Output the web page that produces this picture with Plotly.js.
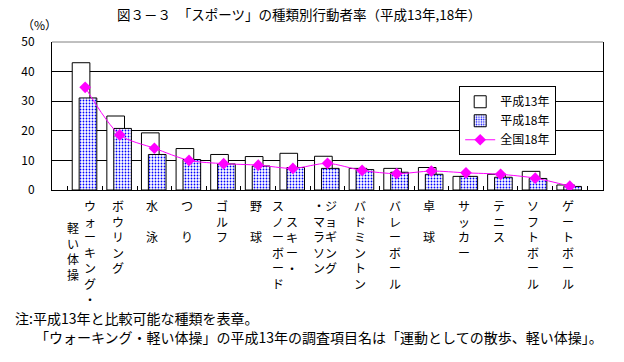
<!DOCTYPE html>
<html>
<head>
<meta charset="utf-8">
<script src="https://cdn.plot.ly/plotly-3.0.1.min.js"></script>
<style>
html,body{margin:0;padding:0;background:#fff;}
#chart{width:624px;height:362px;}
</style>
</head>
<body>
<div id="chart"></div>
<script>
// ---- data ----
const categories = ['ウォーキング・軽い体操','ボウリング','水　泳','つ　り','ゴルフ','野　球','スキー・スノーボード','ジョギング・マラソン','バドミントン','バレーボール','卓　球','サッカー','テニス','ソフトボール','ゲートボール'];
const h13 = [43.0, 25.0, 19.3, 14.0, 12.0, 11.3, 12.4, 11.4, 7.3, 7.3, 7.6, 4.6, 5.3, 6.3, 1.7];
const h18 = [31.1, 20.8, 12.0, 10.3, 8.8, 8.1, 7.6, 7.3, 6.9, 6.0, 5.3, 4.6, 4.3, 3.9, 1.2];
const nat18 = [34.7, 18.6, 14.1, 10.0, 8.9, 8.4, 7.3, 9.0, 6.6, 5.5, 6.4, 5.8, 5.3, 4.0, 1.3];
const seriesNames = ['平成13年', '平成18年', '全国18年'];
// vertical tick label columns: [right column, left column]
const tickColumns = [
  ['ウォーキング・', '軽い体操'],
  ['ボウリング'],
  ['水　泳'],
  ['つ　り'],
  ['ゴルフ'],
  ['野　球'],
  ['スキー・', 'スノーボード'],
  ['ジョギング', '・マラソン'],
  ['バドミントン'],
  ['バレーボール'],
  ['卓　球'],
  ['サッカー'],
  ['テニス'],
  ['ソフトボール'],
  ['ゲートボール']
];
const titleText = '図３－３　「スポーツ」の種類別行動者率（平成13年,18年）';
const unitText = '（%）';
const noteLines = ['注:平成13年と比較可能な種類を表章。', '「ウォーキング・軽い体操」の平成13年の調査項目名は「運動としての散歩、軽い体操」。'];

// ---- styling ----
const FONT = '"Noto Sans CJK JP", "Noto Sans", sans-serif';
// per-column shifts [xshift, row offset] for two-column labels
const colStyle = {
  0: [[5, 0], [-12, 1.4]],
  6: [[-1, 1], [-15, 0]],
  7: [[3, 0], [-9, 0]]
};

const traces = [
  {
    type: 'bar', x: categories, y: h13, name: seriesNames[0],
    width: 0.51, offset: -0.374,
    marker: {color: '#ffffff', line: {color: '#000000', width: 1}},
    hoverinfo: 'skip'
  },
  {
    type: 'bar', x: categories, y: h18, name: seriesNames[1],
    width: 0.51, offset: -0.174,
    marker: {color: '#ffffff', line: {color: '#000000', width: 1},
      pattern: {shape: '.', fgcolor: '#0000ff', bgcolor: '#ffffff', size: 3, solidity: 0.28, fillmode: 'replace'}},
    hoverinfo: 'skip'
  },
  {
    type: 'scatter', mode: 'lines+markers', x: categories, y: nat18, name: seriesNames[2],
    line: {color: '#ff00ff', width: 1, shape: 'spline', smoothing: 0.8},
    marker: {symbol: 'diamond', size: 9, color: '#ff00ff'},
    hoverinfo: 'skip'
  }
];

const annotations = [];
const LH = 15.6;
tickColumns.forEach((cols, i) => {
  cols.forEach((txt, j) => {
    const st = colStyle[i] ? colStyle[i][j] : [-2, 0];
    annotations.push({
      xref: 'x', yref: 'paper', x: categories[i], y: 0,
      xanchor: 'center', yanchor: 'top',
      xshift: st[0], yshift: -6 - st[1] * LH,
      text: Array.from(txt).join('<br>'),
      showarrow: false, align: 'center', borderpad: 0,
      font: {family: FONT, size: 12, color: '#000'}
    });
  });
});
annotations.push({
  xref: 'paper', yref: 'paper', x: -0.022, y: 1.115, xanchor: 'center', yanchor: 'middle',
  text: unitText, showarrow: false, borderpad: 0, font: {family: FONT, size: 12, color: '#000'}
});
annotations.push({
  xref: 'paper', yref: 'paper', x: -0.069, y: -0.865, xanchor: 'left', yanchor: 'middle',
  text: noteLines[0], showarrow: false, borderpad: 0, font: {family: FONT, size: 14, color: '#000'}
});
annotations.push({
  xref: 'paper', yref: 'paper', x: -0.033, y: -0.99, xanchor: 'left', yanchor: 'middle',
  text: noteLines[1], showarrow: false, borderpad: 0, font: {family: FONT, size: 14, color: '#000'}
});

const layout = {
  width: 624, height: 362,
  margin: {l: 52, r: 21, t: 42, b: 172, pad: 0},
  paper_bgcolor: '#ffffff', plot_bgcolor: '#ffffff',
  font: {family: FONT, size: 12, color: '#000'},
  title: {text: titleText, x: 0.1875, xanchor: 'left', y: 0.958, yanchor: 'middle', xref: 'container', yref: 'container',
    font: {family: FONT, size: 13.5, color: '#000'}},
  barmode: 'overlay',
  showlegend: true,
  legend: {x: 0.739, xanchor: 'left', y: 0.701, yanchor: 'top', bgcolor: '#ffffff', bordercolor: '#000000', borderwidth: 1,
    font: {family: FONT, size: 12, color: '#000'}, traceorder: 'normal', tracegroupgap: 0},
  xaxis: {
    type: 'category', showticklabels: false, ticks: 'inside', tickson: 'boundaries', ticklen: 4, tickcolor: '#000',
    showline: true, linecolor: '#000', linewidth: 1, showgrid: false, zeroline: false, fixedrange: true
  },
  yaxis: {
    range: [0, 50], dtick: 10, tick0: 0, showgrid: true, gridcolor: '#000', gridwidth: 1,
    showline: true, linecolor: '#000', linewidth: 1, mirror: true, zeroline: false, ticks: '',
    ticklabelstandoff: 14, tickfont: {family: FONT, size: 12, color: '#000'}, fixedrange: true
  },
  shapes: [
    {type: 'line', xref: 'paper', yref: 'paper', x0: 0, x1: 1, y0: 1, y1: 1, line: {color: '#808080', width: 1}}
  ],
  annotations: annotations
};

Plotly.newPlot('chart', traces, layout, {staticPlot: true, displayModeBar: false});
</script>
</body>
</html>
